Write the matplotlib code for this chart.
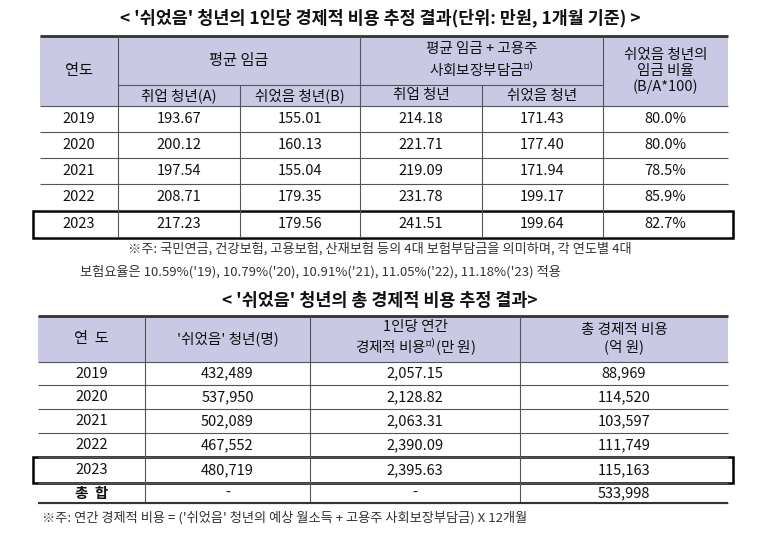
import matplotlib
matplotlib.use("Agg")
import matplotlib.pyplot as plt
from matplotlib.patches import Rectangle

plt.rcParams["font.family"] = "Noto Sans CJK KR"

years = ["2019", "2020", "2021", "2022", "2023"]
wage_employed = [193.67, 200.12, 197.54, 208.71, 217.23]
wage_rest = [155.01, 160.13, 155.04, 179.35, 179.56]
total_employed = [214.18, 221.71, 219.09, 231.78, 241.51]
total_rest = [171.43, 177.40, 171.94, 199.17, 199.64]
ratio = [80.0, 80.0, 78.5, 85.9, 82.7]

rest_count = [432489, 537950, 502089, 467552, 480719]
annual_cost = [2057.15, 2128.82, 2063.31, 2390.09, 2395.63]
total_cost = [88969, 114520, 103597, 111749, 115163]
grand_total = 533998

HDR = "#c9c9e6"
fig = plt.figure(figsize=(7.6, 5.38), dpi=100)
ax = fig.add_axes([0, 0, 1, 1])
ax.set_xlim(0, 760); ax.set_ylim(538, 0); ax.axis("off")

def line(x0, x1, y0, y1, lw=0.8, c="#555555"):
    ax.plot([x0, x1], [y0, y1], color=c, lw=lw, solid_capstyle="butt")

def txt(x, y, s, size=10.5, color="#111111", **kw):
    ax.text(x, y, s, ha="center", va="center", fontsize=size, color=color, **kw)

# ---------- Table 1 ----------
txt(380, 18, "< '쉬었음' 청년의 1인당 경제적 비용 추정 결과(단위: 만원, 1개월 기준) >", size=12.5, fontweight="bold")
cx = [40, 118, 240, 360, 482, 603, 728]
top, mid, hb = 36, 85, 106
rows = [106, 132, 158, 184, 210, 237]
ax.add_patch(Rectangle((cx[0], top), cx[-1]-cx[0], hb-top, color=HDR, lw=0))
line(cx[0], cx[-1], top, top, lw=2, c="#333333")
line(cx[1], cx[5], mid, mid)
for r in rows:
    line(cx[0], cx[-1], r, r)
for i, x in enumerate(cx[1:-1], start=1):
    y0 = top if i in (1, 3, 5) else mid
    line(x, x, y0, rows[-1])
txt((cx[0]+cx[1])/2, (top+hb)/2, "연도", size=11)
txt((cx[1]+cx[3])/2, (top+mid)/2, "평균 임금", size=11)
txt((cx[3]+cx[5])/2, (top+mid)/2, "평균 임금 + 고용주\n사회보장부담금$^{주)}$", size=10.5, linespacing=1.2)
txt((cx[5]+cx[6])/2, (top+hb)/2, "쉬었음 청년의\n임금 비율\n(B/A*100)", size=10.5, linespacing=1.15)
for i, s in enumerate(["취업 청년(A)", "쉬었음 청년(B)", "취업 청년", "쉬었음 청년"]):
    txt((cx[i+1]+cx[i+2])/2, (mid+hb)/2, s, size=10.5)
for j, y in enumerate(years):
    yc = (rows[j]+rows[j+1])/2
    vals = [y, f"{wage_employed[j]:.2f}", f"{wage_rest[j]:.2f}", f"{total_employed[j]:.2f}",
            f"{total_rest[j]:.2f}", f"{ratio[j]:.1f}%"]
    for k, v in enumerate(vals):
        txt((cx[k]+cx[k+1])/2, yc, v, size=10.5)
ax.add_patch(Rectangle((33, rows[4]+1), 700, rows[5]-rows[4], fill=False, lw=1.8, ec="black"))
txt(380, 249, "※주: 국민연금, 건강보험, 고용보험, 산재보험 등의 4대 보험부담금을 의미하며, 각 연도별 4대", size=9.5, color="#333333")
ax.text(80, 272, "보험요율은 10.59%('19), 10.79%('20), 10.91%('21), 11.05%('22), 11.18%('23) 적용",
        ha="left", va="center", fontsize=9.5, color="#333333")

# ---------- Table 2 ----------
txt(380, 301, "< '쉬었음' 청년의 총 경제적 비용 추정 결과>", size=12.5, fontweight="bold")
dx = [38, 145, 310, 520, 728]
t2, h2 = 316, 362
r2 = [362, 385, 409, 433, 457, 483, 503]
ax.add_patch(Rectangle((dx[0], t2), dx[-1]-dx[0], h2-t2, color=HDR, lw=0))
line(dx[0], dx[-1], t2, t2, lw=2, c="#333333")
for r in r2:
    line(dx[0], dx[-1], r, r)
for x in dx[1:-1]:
    line(x, x, t2, r2[-1])
line(dx[0], dx[-1], r2[-1], r2[-1], lw=1.5, c="#333333")
hy = (t2+h2)/2
txt((dx[0]+dx[1])/2, hy, "연  도", size=11)
txt((dx[1]+dx[2])/2, hy, "'쉬었음' 청년(명)", size=10.5)
txt((dx[2]+dx[3])/2, hy, "1인당 연간\n경제적 비용$^{주)}$(만 원)", size=10.5, linespacing=1.2)
txt((dx[3]+dx[4])/2, hy, "총 경제적 비용\n(억 원)", size=10.5, linespacing=1.2)
for j, y in enumerate(years):
    yc = (r2[j]+r2[j+1])/2
    vals = [y, f"{rest_count[j]:,}", f"{annual_cost[j]:,.2f}", f"{total_cost[j]:,}"]
    for k, v in enumerate(vals):
        txt((dx[k]+dx[k+1])/2, yc, v, size=10.5)
yc = (r2[5]+r2[6])/2
for k, v in enumerate(["총  합", "-", "-", f"{grand_total:,}"]):
    txt((dx[k]+dx[k+1])/2, yc, v, size=10.5, fontweight="bold" if k == 0 else "normal")
ax.add_patch(Rectangle((33, r2[4]), 700, r2[5]-r2[4], fill=False, lw=1.8, ec="black"))
ax.text(42, 518, "※주: 연간 경제적 비용 = ('쉬었음' 청년의 예상 월소득 + 고용주 사회보장부담금) X 12개월",
        ha="left", va="center", fontsize=9.5, color="#333333")

fig.savefig("out.png", dpi=100)
